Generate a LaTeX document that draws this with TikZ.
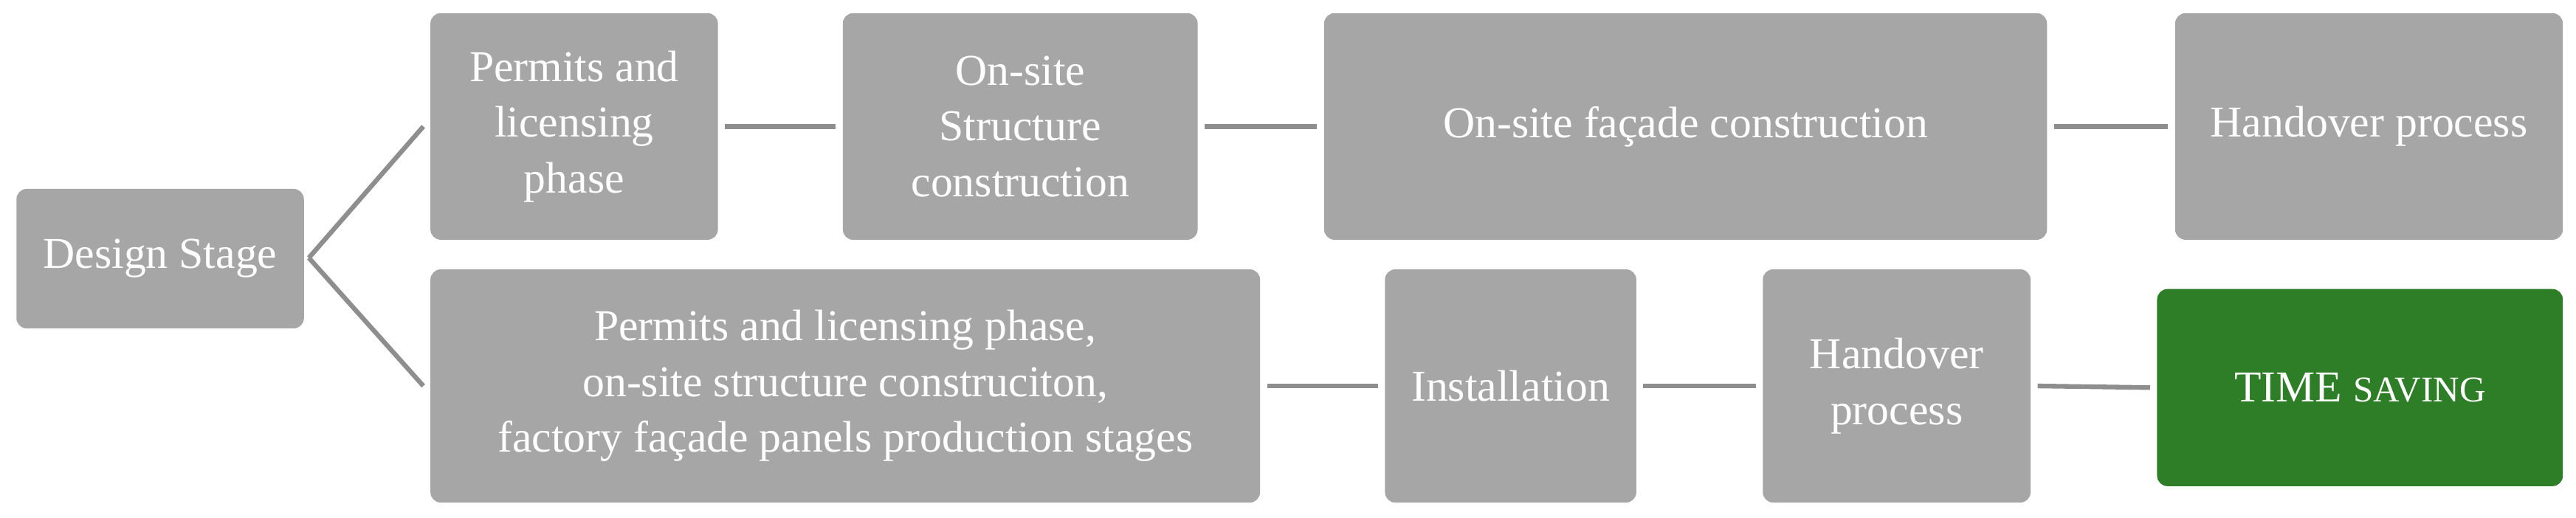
\documentclass[tikz,border=0pt]{standalone}
\usepackage{fontspec}
\setmainfont{Liberation Serif}
\usetikzlibrary{calc}
\begin{document}
\begin{tikzpicture}[x=0.02226cm,y=-0.02226cm,
  box/.style={fill=boxgray,draw=none,rounded corners=4pt,text=white,align=center,inner sep=0pt,font=\fontsize{17}{21.5}\selectfont},
  con/.style={draw=linegray,line width=1.8pt}]
\definecolor{boxgray}{HTML}{A6A6A6}
\definecolor{linegray}{HTML}{8E8E8E}
\definecolor{green}{HTML}{2E7D27}
\useasboundingbox (0,0) rectangle (1568,315);
\newcommand{\bx}[6]{\node[box,minimum width={(#4-#2)*0.02226cm},minimum height={(#5-#3)*0.02226cm},#6] (#1) at ({(#2+#4)/2},{(#3+#5)/2})}
\bx{d}{10}{115}{185}{200}{}{Design Stage};
\bx{p}{262}{8}{437}{146}{}{Permits and\\licensing\\phase};
\bx{s}{513}{8}{729}{146}{}{On-site\\Structure\\construction};
\bx{f}{806}{8}{1246}{146}{}{On-site façade construction};
\bx{h}{1324}{8}{1560}{146}{}{Handover process};
\bx{b}{262}{164}{767}{306}{}{Permits and licensing phase,\\on-site structure construciton,\\factory façade panels production stages};
\bx{i}{843}{164}{996}{306}{}{Installation};
\bx{h2}{1073}{164}{1236}{306}{}{Handover\\process};
\bx{t}{1313}{176}{1560}{296}{fill=green}{TIME {\fontsize{14}{17}\selectfont SAVING}};
\coordinate (j) at (188,157);
\draw[con] (j) -- ($(p.west)+(-4,0)$);
\draw[con] (j) -- ($(b.west)+(-4,0)$);
\draw[con] ($(p.east)+(4,0)$) -- ($(s.west)+(-4,0)$);
\draw[con] ($(s.east)+(4,0)$) -- ($(f.west)+(-4,0)$);
\draw[con] ($(f.east)+(4,0)$) -- ($(h.west)+(-4,0)$);
\draw[con] ($(b.east)+(4,0)$) -- ($(i.west)+(-4,0)$);
\draw[con] ($(i.east)+(4,0)$) -- ($(h2.west)+(-4,0)$);
\draw[con] ($(h2.east)+(4,0)$) -- ($(t.west)+(-4,0)$);
\end{tikzpicture}
\end{document}
